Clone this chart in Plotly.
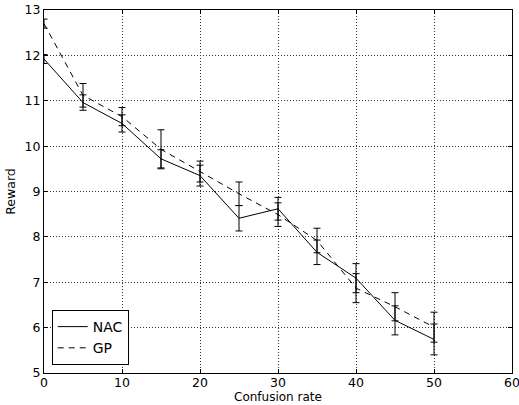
import plotly.graph_objects as go

x_vals = [0, 5, 10, 15, 20, 25, 30, 35, 40, 45, 50]
nac_vals = [11.92, 10.96, 10.50, 9.72, 9.35, 8.41, 8.62, 7.66, 7.09, 6.16, 5.74]
nac_err = [0.10, 0.17, 0.19, 0.20, 0.23, 0.28, 0.25, 0.27, 0.32, 0.32, 0.34]
gp_vals = [12.70, 11.12, 10.65, 9.93, 9.44, 8.95, 8.49, 7.92, 6.87, 6.46, 6.01]
gp_err = [0.10, 0.26, 0.20, 0.43, 0.23, 0.26, 0.26, 0.27, 0.32, 0.31, 0.33]

x_ticks = [0, 10, 20, 30, 40, 50, 60]
y_ticks = [5, 6, 7, 8, 9, 10, 11, 12, 13]

font_family = "DejaVu Sans"

fig = go.Figure()
fig.add_trace(go.Scatter(
    x=x_vals, y=nac_vals, mode="lines", name="NAC",
    line=dict(color="black", width=1),
    error_y=dict(type="data", array=nac_err, visible=True, color="black", thickness=1, width=3.5),
))
fig.add_trace(go.Scatter(
    x=x_vals, y=gp_vals, mode="lines", name="GP",
    line=dict(color="black", width=1, dash="6px,5px"),
    error_y=dict(type="data", array=gp_err, visible=True, color="black", thickness=1, width=3.5),
))

axis_common = dict(
    showline=True, linecolor="black", linewidth=1, mirror="ticks",
    ticks="inside", ticklen=4, tickcolor="black",
    showgrid=True, gridcolor="#333", griddash="1px,2px", gridwidth=1,
    zeroline=False, automargin=False,
    tickfont=dict(family=font_family, size=12.5, color="black"),
)

fig.update_layout(
    width=519, height=405,
    margin=dict(l=44, r=7, t=10, b=32),
    paper_bgcolor="white", plot_bgcolor="white",
    font=dict(family=font_family, color="black"),
    showlegend=True,
    legend=dict(
        x=0.0165, y=0.022, xanchor="left", yanchor="bottom",
        bordercolor="black", borderwidth=1, bgcolor="white",
        font=dict(family=font_family, size=14, color="black"),
    ),
    xaxis=dict(
        range=[0, 60], tickvals=x_ticks, ticktext=[str(v) for v in x_ticks],
        ticklabeloverflow="allow", ticklabelstandoff=-2,
        **axis_common,
    ),
    yaxis=dict(
        range=[5, 13], tickvals=y_ticks, ticktext=[str(v) for v in y_ticks],
        title=dict(text="Reward", font=dict(family=font_family, size=12.5), standoff=6),
        **axis_common,
    ),
    annotations=[dict(
        text="Confusion rate", xref="paper", yref="paper", x=0.5, y=0,
        xanchor="center", yanchor="top", yshift=-16, showarrow=False, borderpad=0,
        font=dict(family=font_family, size=12, color="black"),
    )],
)

fig.write_html("out.html")
